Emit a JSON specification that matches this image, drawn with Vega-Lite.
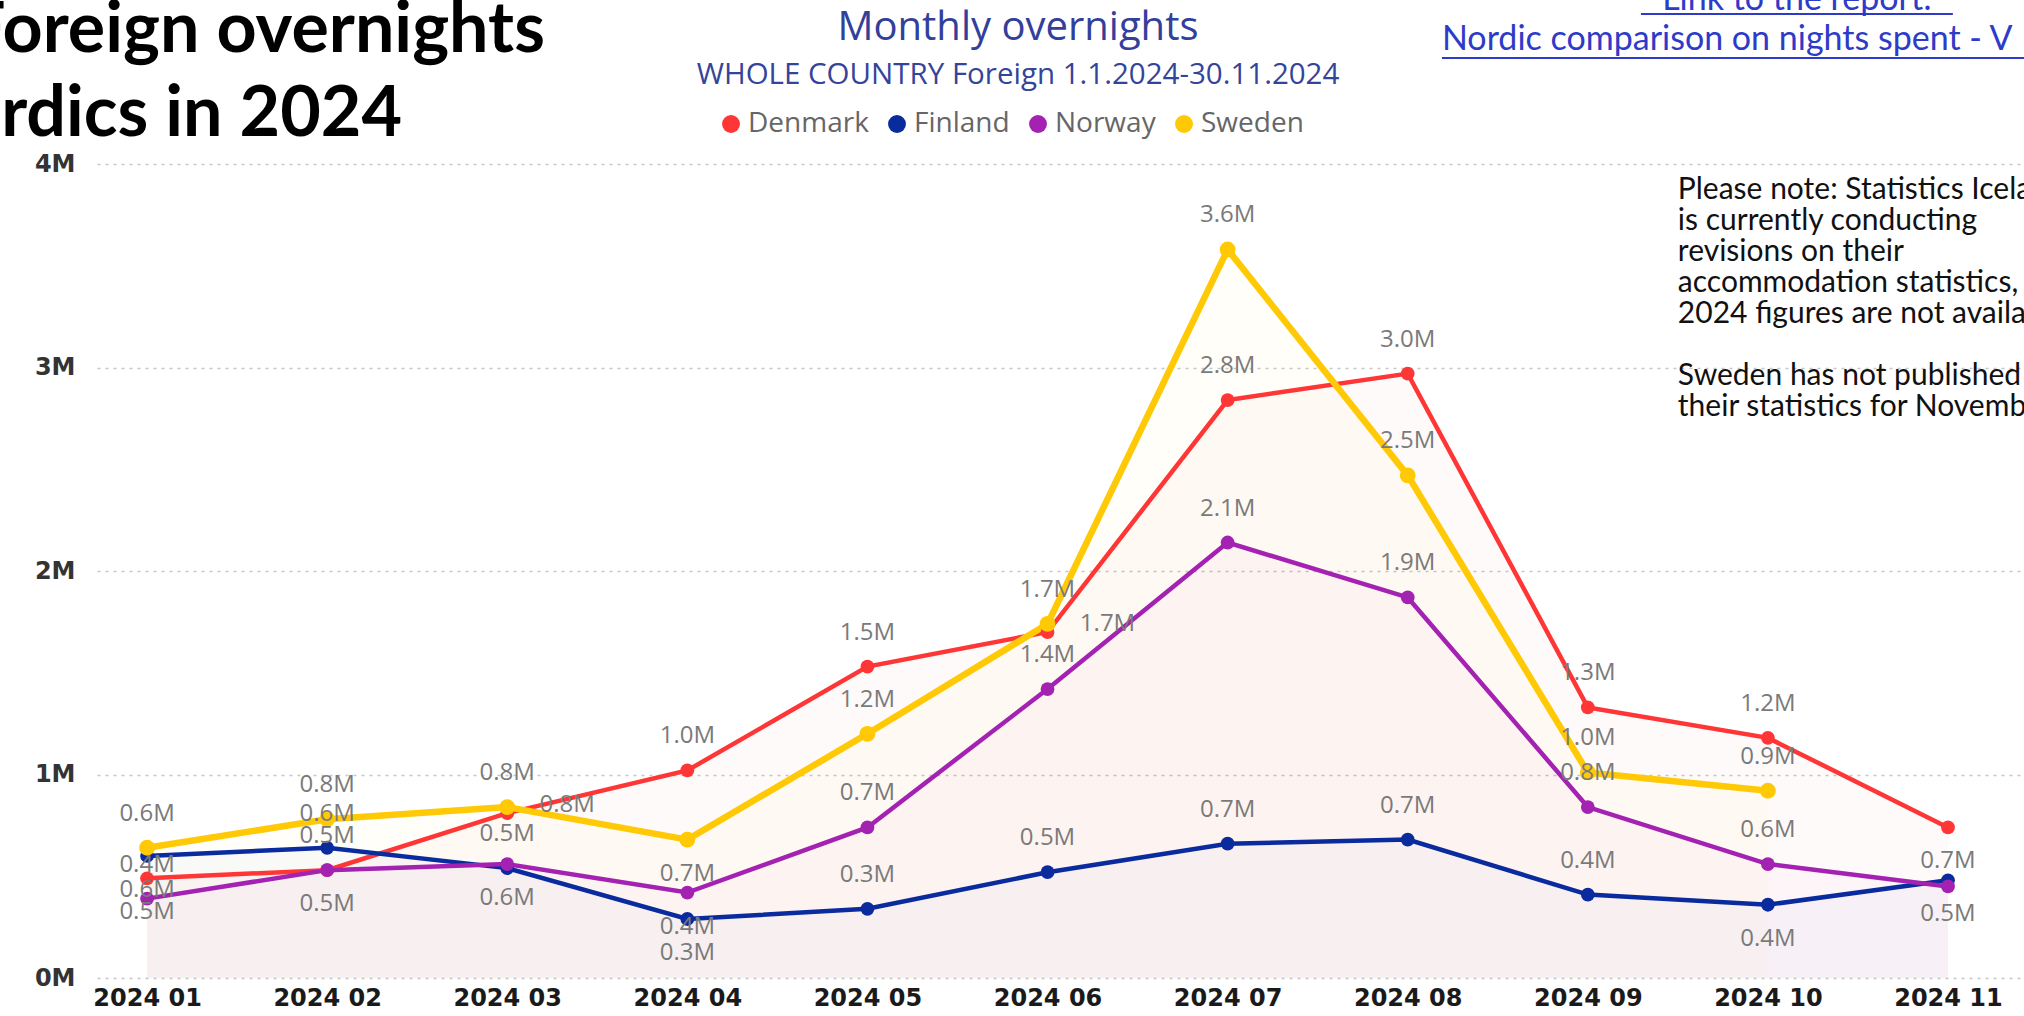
{
  "$schema": "https://vega.github.io/schema/vega-lite/v6.json",
  "width": 1927,
  "height": 814,
  "autosize": {"type": "none"},
  "padding": {"left": 97, "top": 164, "right": 0, "bottom": 38},
  "background": "white",
  "config": {"view": {"stroke": null}},
  "datasets": {
    "nights": [
      {"month": 1, "country": "Denmark", "value": 0.49},
      {"month": 2, "country": "Denmark", "value": 0.53},
      {"month": 3, "country": "Denmark", "value": 0.81},
      {"month": 4, "country": "Denmark", "value": 1.02},
      {"month": 5, "country": "Denmark", "value": 1.53},
      {"month": 6, "country": "Denmark", "value": 1.70},
      {"month": 7, "country": "Denmark", "value": 2.84},
      {"month": 8, "country": "Denmark", "value": 2.97},
      {"month": 9, "country": "Denmark", "value": 1.33},
      {"month": 10, "country": "Denmark", "value": 1.18},
      {"month": 11, "country": "Denmark", "value": 0.74},
      {"month": 1, "country": "Finland", "value": 0.60},
      {"month": 2, "country": "Finland", "value": 0.64},
      {"month": 3, "country": "Finland", "value": 0.54},
      {"month": 4, "country": "Finland", "value": 0.29},
      {"month": 5, "country": "Finland", "value": 0.34},
      {"month": 6, "country": "Finland", "value": 0.52},
      {"month": 7, "country": "Finland", "value": 0.66},
      {"month": 8, "country": "Finland", "value": 0.68},
      {"month": 9, "country": "Finland", "value": 0.41},
      {"month": 10, "country": "Finland", "value": 0.36},
      {"month": 11, "country": "Finland", "value": 0.48},
      {"month": 1, "country": "Norway", "value": 0.39},
      {"month": 2, "country": "Norway", "value": 0.53},
      {"month": 3, "country": "Norway", "value": 0.56},
      {"month": 4, "country": "Norway", "value": 0.42},
      {"month": 5, "country": "Norway", "value": 0.74},
      {"month": 6, "country": "Norway", "value": 1.42},
      {"month": 7, "country": "Norway", "value": 2.14},
      {"month": 8, "country": "Norway", "value": 1.87},
      {"month": 9, "country": "Norway", "value": 0.84},
      {"month": 10, "country": "Norway", "value": 0.56},
      {"month": 11, "country": "Norway", "value": 0.45},
      {"month": 1, "country": "Sweden", "value": 0.64},
      {"month": 2, "country": "Sweden", "value": 0.78},
      {"month": 3, "country": "Sweden", "value": 0.84},
      {"month": 4, "country": "Sweden", "value": 0.68},
      {"month": 5, "country": "Sweden", "value": 1.20},
      {"month": 6, "country": "Sweden", "value": 1.74},
      {"month": 7, "country": "Sweden", "value": 3.58},
      {"month": 8, "country": "Sweden", "value": 2.47},
      {"month": 9, "country": "Sweden", "value": 1.01},
      {"month": 10, "country": "Sweden", "value": 0.92},
      {"month": 11, "country": "Sweden", "value": null}
    ],
    "one": [{"k": "annotation"}]
  },
  "layer": [
    {
      "data": {"name": "nights"},
      "mark": {"type": "area", "opacity": 0.025},
      "encoding": {
        "x": {
          "field": "month",
          "type": "quantitative",
          "scale": {"domain": [0.722, 11.422], "nice": false, "zero": false},
          "axis": {
            "title": null,
            "values": [1, 2, 3, 4, 5, 6, 7, 8, 9, 10, 11],
            "labelExpr": "'2024 ' + (datum.value < 10 ? '0' : '') + datum.value",
            "grid": false,
            "ticks": false,
            "domain": false,
            "labelFont": "DejaVu Sans",
            "labelFontWeight": "bold",
            "labelFontSize": 24,
            "labelColor": "#1a1a1a",
            "labelPadding": 8,
            "labelFlush": false
          }
        },
        "y": {
          "field": "value",
          "type": "quantitative",
          "stack": null,
          "scale": {"domain": [0, 4], "nice": false, "zero": true},
          "axis": {
            "title": null,
            "values": [0, 1, 2, 3, 4],
            "labelExpr": "datum.value + 'M'",
            "grid": true,
            "gridDash": [3, 5],
            "gridColor": "#c8c8c8",
            "gridWidth": 1.5,
            "ticks": false,
            "domain": false,
            "labelFont": "DejaVu Sans",
            "labelFontWeight": "bold",
            "labelFontSize": 24,
            "labelColor": "#333333",
            "labelPadding": 22
          }
        },
        "color": {
          "field": "country",
          "type": "nominal",
          "scale": {"range": ["#FF3636", "#0A2B9E", "#A322B2", "#FFC905"]},
          "legend": null
        }
      }
    },
    {
      "data": {"name": "nights"},
      "mark": {"type": "line"},
      "encoding": {
        "x": {"field": "month", "type": "quantitative"},
        "y": {"field": "value", "type": "quantitative"},
        "stroke": {
          "field": "country",
          "type": "nominal",
          "scale": {"range": ["#FF3636", "#0A2B9E", "#A322B2", "#FFC905"]},
          "legend": null
        },
        "strokeWidth": {"condition": {"test": "datum.country === 'Sweden'", "value": 6.5}, "value": 4.5}
      }
    },
    {
      "data": {"name": "nights"},
      "mark": {"type": "circle", "opacity": 1},
      "encoding": {
        "x": {"field": "month", "type": "quantitative"},
        "y": {"field": "value", "type": "quantitative"},
        "fill": {
          "field": "country",
          "type": "nominal",
          "scale": {"domain": ["Denmark", "Finland", "Norway", "Sweden"], "range": ["#FF3636", "#0A2B9E", "#A322B2", "#FFC905"]},
          "legend": {
            "orient": "none",
            "legendX": 620,
            "legendY": -54,
            "direction": "horizontal",
            "title": null,
            "symbolType": "circle",
            "symbolSize": 320,
            "labelFont": "Open Sans",
            "labelFontSize": 28,
            "labelColor": "#666666",
            "labelOffset": 3,
            "columnPadding": 14
          }
        },
        "size": {"condition": {"test": "datum.country === 'Sweden'", "value": 250}, "value": 190}
      }
    },
    {
      "data": {"name": "nights"},
      "transform": [
        {"filter": "isValid(datum.value) && !((datum.country === 'Denmark' && indexof([1, 2, 3, 6, 11], datum.month) >= 0) || (datum.country === 'Finland' && indexof([1, 4, 10, 11], datum.month) >= 0) || (datum.country === 'Norway' && indexof([3, 4, 11], datum.month) >= 0) || (datum.country === 'Sweden' && datum.month === 4))"}
      ],
      "mark": {"type": "text", "dy": -34, "font": "Open Sans", "fontSize": 24, "color": "#7a7a7a", "baseline": "middle", "text": {"expr": "format(datum.value, '.1f') + 'M'"}},
      "encoding": {
        "x": {"field": "month", "type": "quantitative"},
        "y": {"field": "value", "type": "quantitative"}
      }
    },
    {
      "data": {"name": "nights"},
      "transform": [
        {"filter": "isValid(datum.value) && ((datum.country === 'Denmark' && indexof([1, 2, 11], datum.month) >= 0) || (datum.country === 'Finland' && indexof([1, 4, 10, 11], datum.month) >= 0) || (datum.country === 'Norway' && indexof([3, 4], datum.month) >= 0) || (datum.country === 'Sweden' && datum.month === 4))"}
      ],
      "mark": {"type": "text", "dy": 34, "font": "Open Sans", "fontSize": 24, "color": "#7a7a7a", "baseline": "middle", "text": {"expr": "format(datum.value, '.1f') + 'M'"}},
      "encoding": {
        "x": {"field": "month", "type": "quantitative"},
        "y": {"field": "value", "type": "quantitative"}
      }
    },
    {
      "data": {"name": "nights"},
      "transform": [
        {"filter": "datum.country === 'Denmark' && (datum.month === 3 || datum.month === 6)"}
      ],
      "mark": {"type": "text", "dx": 60, "dy": -8, "font": "Open Sans", "fontSize": 24, "color": "#7a7a7a", "baseline": "middle", "text": {"expr": "format(datum.value, '.1f') + 'M'"}},
      "encoding": {
        "x": {"field": "month", "type": "quantitative"},
        "y": {"field": "value", "type": "quantitative"}
      }
    },
    {
      "data": {"name": "one"},
      "mark": {"type": "text", "align": "left", "baseline": "alphabetic", "font": "Lato", "fontWeight": "bold", "fontSize": 70, "color": "#000000"},
      "encoding": {
        "x": {"datum": -0.005, "type": "quantitative"},
        "y": {"datum": 4.55, "type": "quantitative"},
        "text": {"value": "Foreign overnights"}
      }
    },
    {
      "data": {"name": "one"},
      "mark": {"type": "text", "align": "left", "baseline": "alphabetic", "font": "Lato", "fontWeight": "bold", "fontSize": 70, "color": "#000000"},
      "encoding": {
        "x": {"datum": -0.327, "type": "quantitative"},
        "y": {"datum": 4.138, "type": "quantitative"},
        "text": {"value": "Nordics in 2024"}
      }
    },
    {
      "data": {"name": "one"},
      "mark": {"type": "text", "align": "center", "baseline": "middle", "font": "Open Sans", "fontSize": 40, "color": "#33409A"},
      "encoding": {
        "x": {"datum": 5.836, "type": "quantitative"},
        "y": {"datum": 4.666, "type": "quantitative"},
        "text": {"value": "Monthly overnights"}
      }
    },
    {
      "data": {"name": "one"},
      "mark": {"type": "text", "align": "center", "baseline": "middle", "font": "Open Sans", "fontSize": 29.5, "color": "#34449A"},
      "encoding": {
        "x": {"datum": 5.836, "type": "quantitative"},
        "y": {"datum": 4.437, "type": "quantitative"},
        "text": {"value": "WHOLE COUNTRY Foreign  1.1.2024-30.11.2024"}
      }
    },
    {
      "data": {"name": "one"},
      "mark": {"type": "text", "align": "center", "baseline": "alphabetic", "font": "Lato", "fontSize": 34, "color": "#2E3BC8"},
      "encoding": {
        "x": {"datum": 10.161, "type": "quantitative"},
        "y": {"datum": 4.757, "type": "quantitative"},
        "text": {"value": "Link to the report:"}
      }
    },
    {
      "data": {"name": "one"},
      "mark": {"type": "rule", "color": "#2E3BC8", "strokeWidth": 2},
      "encoding": {
        "x": {"datum": 9.295, "type": "quantitative"},
        "x2": {"datum": 11.027},
        "y": {"datum": 4.737, "type": "quantitative"}
      }
    },
    {
      "data": {"name": "one"},
      "mark": {"type": "text", "align": "left", "baseline": "middle", "font": "Lato", "fontSize": 34, "color": "#2E3BC8"},
      "encoding": {
        "x": {"datum": 8.19, "type": "quantitative"},
        "y": {"datum": 4.609, "type": "quantitative"},
        "text": {"value": "Nordic comparison on nights spent  - V"}
      }
    },
    {
      "data": {"name": "one"},
      "mark": {"type": "rule", "color": "#2E3BC8", "strokeWidth": 2},
      "encoding": {
        "x": {"datum": 8.19, "type": "quantitative"},
        "x2": {"datum": 11.422},
        "y": {"datum": 4.521, "type": "quantitative"}
      }
    },
    {
      "data": {"name": "one"},
      "mark": {"type": "text", "align": "left", "baseline": "alphabetic", "font": "Lato", "fontSize": 30, "lineHeight": 31, "color": "#111111"},
      "encoding": {
        "x": {"datum": 9.5, "type": "quantitative"},
        "y": {"datum": 3.828, "type": "quantitative"},
        "text": {"value": ["Please note: Statistics Iceland", "is currently conducting", "revisions on their", "accommodation statistics,", "2024 figures are not available"]}
      }
    },
    {
      "data": {"name": "one"},
      "mark": {"type": "text", "align": "left", "baseline": "alphabetic", "font": "Lato", "fontSize": 30, "lineHeight": 31, "color": "#111111"},
      "encoding": {
        "x": {"datum": 9.5, "type": "quantitative"},
        "y": {"datum": 2.914, "type": "quantitative"},
        "text": {"value": ["Sweden has not published", "their statistics for November"]}
      }
    }
  ]
}
